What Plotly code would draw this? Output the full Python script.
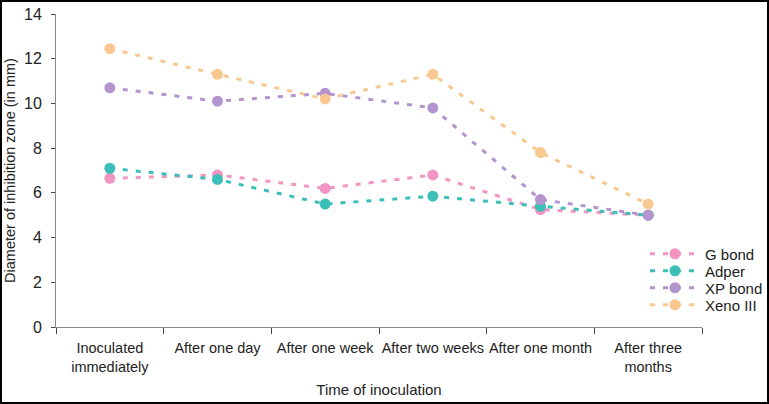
import plotly.graph_objects as go

categories = ["Inoculated<br>immediately", "After one day", "After one week",
              "After two weeks", "After one month", "After three<br>months"]
g_bond = [6.65, 6.8, 6.2, 6.8, 5.25, 5.0]
adper = [7.1, 6.6, 5.5, 5.85, 5.4, 5.0]
xp_bond = [10.7, 10.1, 10.45, 9.8, 5.7, 5.0]
xeno_iii = [12.45, 11.3, 10.2, 11.3, 7.8, 5.5]

series = [("G bond", g_bond, "#F295C2"),
          ("Adper", adper, "#3DBFB9"),
          ("XP bond", xp_bond, "#B394CF"),
          ("Xeno III", xeno_iii, "#F9C891")]

W, H = 769, 404
L, R, T, B = 56, 67, 14, 77
PW, PH = W - L - R, H - T - B

legend_names = ["legend", "legend2", "legend3", "legend4"]
legend_py = [254, 271, 288, 305]

fig = go.Figure()
layout_legends = {}
for i, (name, vals, col) in enumerate(series):
    fig.add_trace(go.Scatter(x=categories, y=vals, name=name, mode="lines+markers",
                             line=dict(color=col, width=3, dash="5px,8px"),
                             marker=dict(color=col, size=11),
                             legend=legend_names[i]))
    layout_legends[legend_names[i]] = dict(
        x=(645 - L) / PW, y=(H - B - legend_py[i]) / PH,
        xanchor="left", yanchor="middle",
        bgcolor="rgba(0,0,0,0)", font=dict(size=15, color="#222"),
        itemwidth=50)

fig.update_layout(
    width=W, height=H,
    margin=dict(l=L, r=R, t=T, b=B, autoexpand=False),
    paper_bgcolor="white", plot_bgcolor="white",
    font=dict(family="Liberation Sans, Arial, sans-serif", size=13, color="#222"),
    showlegend=True,
    xaxis=dict(title=dict(text="Time of inoculation", font=dict(size=15), standoff=10),
               automargin=False, range=[-0.5, 5.5], tickangle=0,
               showline=True, linecolor="#888", linewidth=1,
               ticks="outside", tickson="boundaries", ticklen=6, tickcolor="#444",
               ticklabelstandoff=8,
               showgrid=False, tickfont=dict(size=14.5)),
    yaxis=dict(title=dict(text="Diameter of inhibition zone (in mm)", font=dict(size=14.5), standoff=4),
               automargin=False,
               range=[0, 14], dtick=2, showline=True, linecolor="#888", linewidth=1,
               ticks="outside", ticklen=4, tickcolor="#444", showgrid=False,
               ticklabelstandoff=6,
               zeroline=False, tickfont=dict(size=16)),
    shapes=[dict(type="rect", xref="paper", yref="paper",
                 x0=(1 - L) / PW, x1=(W - 1 - L) / PW,
                 y0=(H - B - (H - 1)) / PH, y1=(H - B - 1) / PH,
                 line=dict(color="black", width=2))],
    **layout_legends
)

fig.write_html("out.html", config={"displayModeBar": False},
               post_script="document.body.style.margin='0';")
